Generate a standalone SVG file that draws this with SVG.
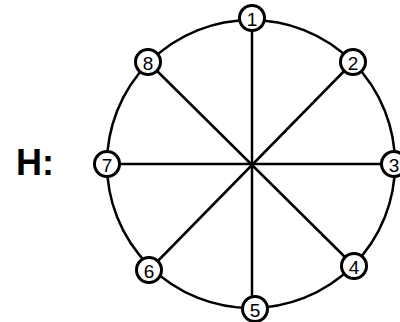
<svg xmlns="http://www.w3.org/2000/svg" width="400" height="322" viewBox="0 0 400 322">
<style>
.ring{fill:none;stroke:#000;stroke-width:2.5}
.spoke{stroke:#000;stroke-width:2.5}
.node circle{fill:#fff;stroke:#000;stroke-width:3}
.node text{font-family:"Liberation Sans",Arial,sans-serif;font-size:19px;fill:#000;text-anchor:middle;dominant-baseline:central}
.label{font-family:"Liberation Sans",Arial,sans-serif;font-size:36px;font-weight:bold;fill:#000}
</style>
<rect width="400" height="322" fill="#fff"/>
<text class="label" x="16" y="175">H:</text>
<circle class="ring" cx="251" cy="164" r="144"/>
<g id="connectors">
<line class="spoke" x1="252" y1="18" x2="252" y2="309"/>
<line class="spoke" x1="107" y1="164" x2="395" y2="164"/>
<line class="spoke" x1="148" y1="62" x2="354" y2="266"/>
<line class="spoke" x1="353" y1="62" x2="149" y2="270"/>
</g>
<g id="n1" class="node"><circle cx="252" cy="18" r="12.5"/><text x="252" y="19">1</text></g>
<g id="n2" class="node"><circle cx="353" cy="62" r="12.5"/><text x="353" y="63">2</text></g>
<g id="n3" class="node"><circle cx="394" cy="164" r="12.5"/><text x="394" y="165">3</text></g>
<g id="n4" class="node"><circle cx="354" cy="266" r="12.5"/><text x="354" y="267">4</text></g>
<g id="n5" class="node"><circle cx="255" cy="309" r="12.5"/><text x="255" y="310">5</text></g>
<g id="n6" class="node"><circle cx="149" cy="270" r="12.5"/><text x="149" y="271">6</text></g>
<g id="n7" class="node"><circle cx="107" cy="164" r="12.5"/><text x="107" y="165">7</text></g>
<g id="n8" class="node"><circle cx="148" cy="62" r="12.5"/><text x="148" y="63">8</text></g>
</svg>
